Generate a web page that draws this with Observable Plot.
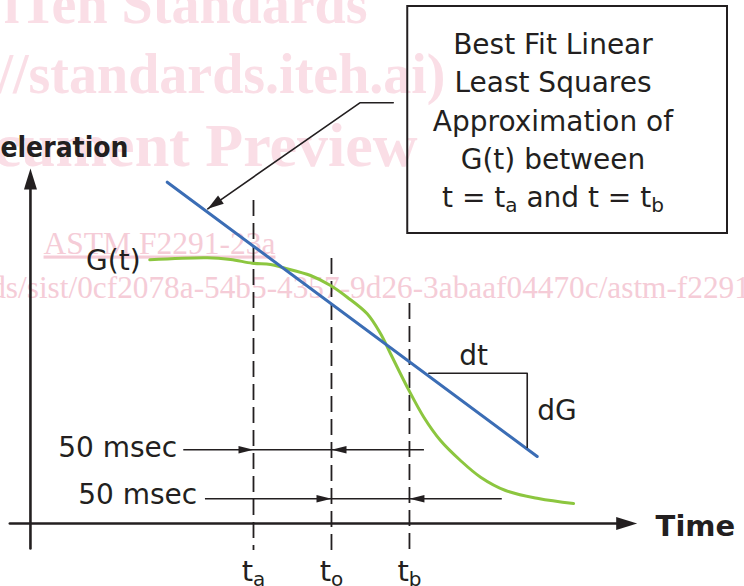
<!DOCTYPE html>
<html><head><meta charset="utf-8">
<script src="https://cdn.jsdelivr.net/npm/d3@7"></script>
<script src="https://cdn.jsdelivr.net/npm/@observablehq/plot@0.6"></script>
<style>
html,body{margin:0;padding:0;background:#fff;}
#chart svg{display:block;}
#chart text{white-space:pre;}
</style></head><body><div id="chart"></div>
<script>
// ---- data (time in ms, G in arbitrary acceleration units) ----
const markNames = ["t_a", "t_o", "t_b"];
const markTimes = [143, 193, 243];
const markTops  = [32.3, 26.5, 22.0];
const markBottom = -2.7;

const curveT = [76.5, 113.3, 128.3, 142.2, 153.9, 162.2, 179.6, 192.4, 203.1, 215.9, 224.4, 230.8, 241.6, 252.2, 262.9, 275.7, 288.6, 304.6, 325.7, 348.2];
const curveG = [26.37, 26.57, 26.4, 26.03, 25.9, 25.57, 24.8, 23.8, 22.63, 20.97, 19.0, 17.0, 13.63, 10.63, 8.3, 6.3, 4.63, 3.3, 2.5, 2.0];

const fitT = [87.7, 324.9];
const fitG = [34.13, 6.7];

const slopeT = [255.4, 318.5, 318.5];
const slopeG = [15.03, 15.03, 7.6];
const slopeLabels = ["dt", "dG"];
const slopeLabelT = [284.1, 324.9];
const slopeLabelG = [15.9, 10.37];

const spanLabels = ["50 msec", "50 msec"];
const spanG = [7.37, 2.47];
const spanStart = [98.3, 112.2];
const spanFrom = [143, 193];
const spanTo = [193, 243];
const spanEnd = [252.6, 302.5];
const spanLabelT = [94.1, 106.9];
const spanLabelG = [6.7, 1.97];

const xAxisT = [-13.2, 389.0];
const yAxisG = [-2.5, 35.5];
const axisLabels = ["Time", "Acceleration"];
const axisLabelT = [400.8, 62.9];
const axisLabelG = [-1.2, 36.7];

const curveLabel = "G(t)";
const curveLabelT = 70.6, curveLabelG = 25.35;

const boxT = [241.9, 446.9];
const boxG = [29.0, 51.7];
const boxLines = ["Best Fit Linear", "Least Squares", "Approximation of", "G(t) between", "t = t_a and t = t_b"];
const boxLineT = 335.0;
const boxLineG = [46.97, 43.13, 39.23, 35.47, 31.63];

const leaderT = [232.6, 211.2, 113.7];
const leaderG = [42.07, 42.07, 31.47];

const wmLines = ["iTeh Standards", "(https://standards.iteh.ai)", "Document Preview", "ASTM F2291-23a", "https://standards.iteh.ai/catalog/standards/sist/0cf2078a-54b5-4357-9d26-3abaaf04470c/astm-f2291-23a"];
const wmT = [216.1, 266.1, 248.2, 8.4, 496.9];
const wmG = [50.1, 43.1, 35.8, 27.0, 22.6];
const wmAnchor = ["end", "end", "end", "start", "end"];
const wmSize = [56, 56, 62, 31.5, 31.3];
const wmBold = [true, true, true, false, false];

// ---- scales ----
const X_DOMAIN = [-19.2, 457.8], Y_DOMAIN = [-6.3, 52.3];
const W = 744, H = 586;
const KX = W / (X_DOMAIN[1] - X_DOMAIN[0]), KY = H / (Y_DOMAIN[1] - Y_DOMAIN[0]);

const ink = "#231f20", blueC = "#3b6db5", greenC = "#8cc63f", pinkBig = "#fadee6", pinkSmall = "#f5ccd7";
const font = "DejaVu Sans";

function head(L, Wd) {
  return {draw(ctx) { ctx.moveTo(0, 0); ctx.lineTo(Wd, L); ctx.lineTo(-Wd, L); ctx.closePath(); }};
}
function angle(t1, g1, t2, g2) { // screen rotation (deg) of direction 1 -> 2
  const dx = (t2 - t1) * KX, dy = -(g2 - g1) * KY;
  return Math.atan2(dx, -dy) * 180 / Math.PI;
}

const curve = curveT.map((t, i) => ({t, g: curveG[i]}));
const fit = fitT.map((t, i) => ({t, g: fitG[i]}));
const slope = slopeT.map((t, i) => ({t, g: slopeG[i]}));
const leader = leaderT.map((t, i) => ({t, g: leaderG[i]}));
const marksTbl = markNames.map((n, i) => ({n, t: markTimes[i], top: markTops[i]}));
const spans = spanLabels.map((s, i) => ({s, g: spanG[i], a: spanStart[i], from: spanFrom[i], to: spanTo[i], b: spanEnd[i], lt: spanLabelT[i], lg: spanLabelG[i]}));
const spanHeads = spans.flatMap(d => [{t: d.from, g: d.g, r: 90}, {t: d.to, g: d.g, r: 270}]);
const axisHeads = [{t: xAxisT[1], g: 0, r: 90}, {t: 0, g: yAxisG[1], r: 0}];
const leaderHead = [{t: leaderT[2], g: leaderG[2], r: angle(leaderT[1], leaderG[1], leaderT[2], leaderG[2])}];

const wmMarks = wmLines.map((s, i) => Plot.text([{s, t: wmT[i], g: wmG[i]}], {
  x: "t", y: "g", text: "s", textAnchor: wmAnchor[i], lineAnchor: "bottom",
  fontFamily: "Liberation Serif", fontSize: wmSize[i], fontWeight: wmBold[i] ? "bold" : "normal",
  fill: wmBold[i] ? pinkBig : pinkSmall
}));

const chart = Plot.plot({
  width: W, height: H, margin: 0,
  x: {domain: X_DOMAIN, axis: null},
  y: {domain: Y_DOMAIN, axis: null},
  style: {fontFamily: font, background: "white"},
  marks: [
    ...wmMarks,
    // axes
    Plot.line([{t: xAxisT[0], g: 0}, {t: xAxisT[1] - 8 / KX, g: 0}], {x: "t", y: "g", stroke: ink, strokeWidth: 2.6}),
    Plot.line([{t: 0, g: yAxisG[0]}, {t: 0, g: yAxisG[1] - 8 / KY}], {x: "t", y: "g", stroke: ink, strokeWidth: 2.6}),
    Plot.dot(axisHeads, {x: "t", y: "g", rotate: "r", symbol: head(21, 6.5), fill: ink}),
    // dashed time marks
    Plot.ruleX(marksTbl, {x: "t", y1: "top", y2: () => markBottom, stroke: ink, strokeWidth: 1.8, strokeDasharray: "16,7"}),
    // span arrows
    Plot.ruleY(spans, {y: "g", x1: "a", x2: "b", stroke: ink, strokeWidth: 1.5}),
    Plot.dot(spanHeads, {x: "t", y: "g", rotate: "r", symbol: head(15, 3.8), fill: ink}),
    Plot.text(spans, {x: "lt", y: "lg", text: "s", textAnchor: "end", lineAnchor: "bottom", fontSize: 28, fill: ink}),
    // curves
    Plot.line(curve, {x: "t", y: "g", stroke: greenC, strokeWidth: 3, curve: "catmull-rom"}),
    Plot.line(fit, {x: "t", y: "g", stroke: blueC, strokeWidth: 3}),
    // slope bracket
    Plot.line(slope, {x: "t", y: "g", stroke: ink, strokeWidth: 1.6}),
    Plot.text([{s: slopeLabels[0], t: slopeLabelT[0], g: slopeLabelG[0]}], {x: "t", y: "g", text: "s", textAnchor: "middle", lineAnchor: "bottom", fontSize: 28, fill: ink}),
    Plot.text([{s: slopeLabels[1], t: slopeLabelT[1], g: slopeLabelG[1]}], {x: "t", y: "g", text: "s", textAnchor: "start", lineAnchor: "bottom", fontSize: 28, fill: ink}),
    // labels
    Plot.text([{s: curveLabel, t: curveLabelT, g: curveLabelG}], {x: "t", y: "g", text: "s", textAnchor: "end", lineAnchor: "bottom", fontSize: 28, fill: ink}),
    Plot.text([{s: axisLabels[0], t: axisLabelT[0], g: axisLabelG[0]}], {x: "t", y: "g", text: "s", textAnchor: "start", lineAnchor: "bottom", fontSize: 29, fontWeight: "bold", fill: ink}),
    Plot.text([{s: axisLabels[1], t: axisLabelT[1], g: axisLabelG[1]}], {x: "t", y: "g", text: "s", textAnchor: "end", lineAnchor: "bottom", fontFamily: "'DejaVu Sans Condensed', 'DejaVu Sans'", fontSize: 28, fontWeight: "bold", fill: ink}),
    Plot.text(marksTbl, {x: "t", y: () => -5.7, text: "n", textAnchor: "middle", lineAnchor: "bottom", fontSize: 29, fill: ink}),
    // annotation box
    Plot.rect([{t1: boxT[0], t2: boxT[1], g1: boxG[0], g2: boxG[1]}], {x1: "t1", x2: "t2", y1: "g1", y2: "g2", fill: "none", stroke: ink, strokeWidth: 2}),
    Plot.text(boxLines.map((s, i) => ({s, g: boxLineG[i]})), {x: () => boxLineT, y: "g", text: "s", textAnchor: "middle", lineAnchor: "bottom", fontSize: 28, fill: ink}),
    Plot.line(leader, {x: "t", y: "g", stroke: ink, strokeWidth: 1.6}),
    Plot.dot(leaderHead, {x: "t", y: "g", rotate: "r", symbol: head(16, 5), fill: ink})
  ]
});

// subscripts ("t_a" -> t with subscript a) and underline on the ASTM watermark
const NS = "http://www.w3.org/2000/svg";
chart.querySelectorAll("text").forEach(el => {
  const s = el.textContent;
  if (s === "ASTM F2291-23a") el.setAttribute("text-decoration", "underline");
  if (!/_\w/.test(s)) return;
  const size = parseFloat(el.getAttribute("font-size") || getComputedStyle(el).fontSize) || 27;
  const parts = s.split(/_(\w)/);
  while (el.firstChild) el.removeChild(el.firstChild);
  let down = false;
  parts.forEach((p, i) => {
    if (!p) return;
    const ts = document.createElementNS(NS, "tspan");
    ts.textContent = p;
    if (i % 2 === 1) { ts.setAttribute("font-size", Math.round(size * 0.74)); ts.setAttribute("dy", 5); down = true; }
    else if (down) { ts.setAttribute("dy", -5); down = false; }
    el.appendChild(ts);
  });
});
document.getElementById("chart").appendChild(chart);
</script></body></html>
